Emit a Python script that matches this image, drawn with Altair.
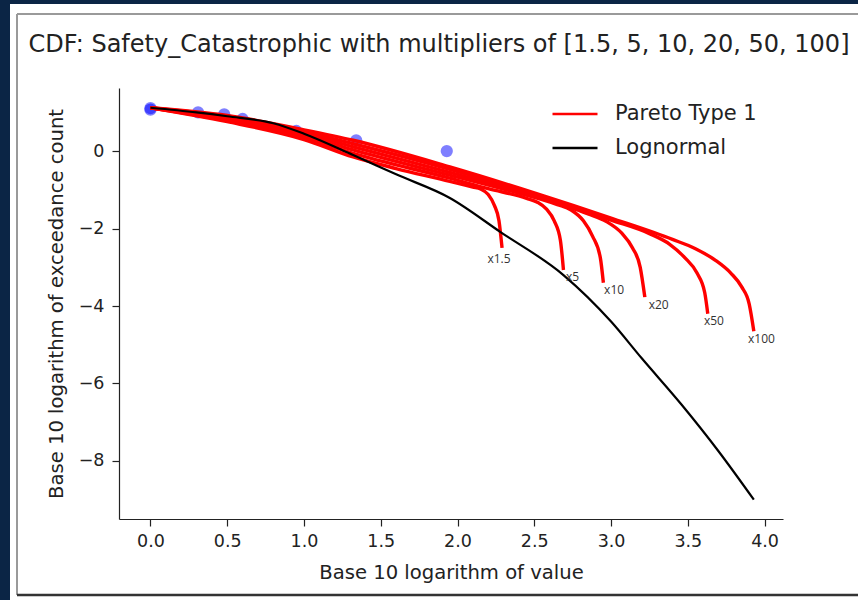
import altair as alt
import pandas as pd

# ---------------- data ----------------
title_text = "CDF: Safety_Catastrophic with multipliers of [1.5, 5, 10, 20, 50, 100]"

obs_x = [0.0, 0.0, 0.31, 0.48, 0.60, 0.95, 1.34, 1.93]
obs_y = [1.11, 1.07, 1.00, 0.95, 0.83, 0.52, 0.28, 0.00]

logn_x = [0.0, 0.3, 0.5, 0.8, 1.0, 1.32, 1.6, 1.95, 2.28, 2.69, 3.0, 3.2, 3.46, 3.7, 3.93]
logn_y = [1.12, 1.00, 0.90, 0.72, 0.45, -0.10, -0.60, -1.21, -2.09, -3.20, -4.40, -5.35, -6.55, -7.75, -9.00]

multipliers = ["x1.5", "x5", "x10", "x20", "x50", "x100"]
pareto_x = {
    "x1.5": [0, 0.5, 1.0, 1.32, 1.6, 1.95, 2.10, 2.15, 2.20, 2.24, 2.27, 2.29],
    "x5":   [0, 0.5, 1.0, 1.32, 1.95, 2.20, 2.45, 2.52, 2.58, 2.63, 2.67, 2.69],
    "x10":  [0, 0.5, 1.0, 1.32, 1.95, 2.30, 2.65, 2.74, 2.82, 2.88, 2.93, 2.95],
    "x20":  [0, 0.5, 1.0, 1.32, 1.95, 2.40, 2.85, 2.97, 3.07, 3.14, 3.19, 3.22],
    "x50":  [0, 0.5, 1.0, 1.32, 1.95, 2.50, 3.00, 3.25, 3.38, 3.48, 3.56, 3.61, 3.63],
    "x100": [0, 0.5, 1.0, 1.32, 1.95, 2.50, 3.00, 3.40, 3.55, 3.68, 3.78, 3.85, 3.90, 3.93],
}
pareto_y = {
    "x1.5": [1.12, 0.76, 0.30, -0.15, -0.45, -0.78, -0.93, -0.98, -1.12, -1.40, -1.80, -2.50],
    "x5":   [1.12, 0.79, 0.35, -0.06, -0.70, -0.97, -1.22, -1.32, -1.50, -1.80, -2.30, -3.07],
    "x10":  [1.12, 0.83, 0.41, 0.03, -0.62, -0.98, -1.38, -1.52, -1.80, -2.20, -2.75, -3.40],
    "x20":  [1.12, 0.86, 0.46, 0.11, -0.55, -1.05, -1.62, -1.82, -2.12, -2.50, -3.00, -3.77],
    "x50":  [1.12, 0.89, 0.50, 0.19, -0.47, -1.12, -1.78, -2.13, -2.40, -2.75, -3.15, -3.65, -4.20],
    "x100": [1.12, 0.92, 0.55, 0.28, -0.41, -1.08, -1.73, -2.28, -2.52, -2.82, -3.15, -3.50, -3.95, -4.65],
}
label_x = [2.27, 2.75, 3.02, 3.31, 3.67, 3.98]
label_y = [-2.79, -3.25, -3.59, -3.97, -4.39, -4.85]

x_ticks = [0.0, 0.5, 1.0, 1.5, 2.0, 2.5, 3.0, 3.5, 4.0]
y_ticks = [0, -2, -4, -6, -8]
series_names = ["Pareto Type 1", "Lognormal"]
series_colors = ["#ff0000", "#000000"]

# ---------------- tables ----------------
rows = []
for m in multipliers:
    for i, (xv, yv) in enumerate(zip(pareto_x[m], pareto_y[m])):
        rows.append({"curve": m, "series": "Pareto Type 1", "i": i, "x": xv, "y": yv})
pareto_df = pd.DataFrame(rows)
logn_df = pd.DataFrame({"curve": "logn", "series": "Lognormal",
                        "i": list(range(len(logn_x))), "x": logn_x, "y": logn_y})
pts_df = pd.DataFrame({"x": obs_x, "y": obs_y})
lab_df = pd.DataFrame({"x": label_x, "y": label_y, "t": multipliers})
one = pd.DataFrame({"t": [title_text]})

FONT = "DejaVu Sans"
xs = alt.Scale(domain=[-0.205, 4.12], nice=False, zero=False)
ys = alt.Scale(domain=[-9.5, 1.63], nice=False, zero=False)
cs = alt.Scale(domain=series_names, range=series_colors)

# decorative page panel (slide frame)
panel = alt.Chart(one).mark_rect(color="white").encode(
    x=alt.value(-109), x2=alt.value(739), y=alt.value(-84), y2=alt.value(512))
frame_l = alt.Chart(one).mark_rule(color="#9a9a9a", strokeWidth=2).encode(
    x=alt.value(-102), y=alt.value(-74), y2=alt.value(507))
frame_t = alt.Chart(one).mark_rule(color="#9a9a9a", strokeWidth=2).encode(
    x=alt.value(-102), x2=alt.value(739), y=alt.value(-74))
frame_b = alt.Chart(one).mark_rule(color="#333333", strokeWidth=2.5).encode(
    x=alt.value(-102), x2=alt.value(739), y=alt.value(507))

title = alt.Chart(one).mark_text(font=FONT, fontSize=24, color="#222222",
                                 align="center", baseline="middle").encode(
    x=alt.value(320), y=alt.value(-43), text="t:N")

points = alt.Chart(pts_df).mark_circle(size=150, color="#0000ff", opacity=0.5).encode(
    x=alt.X("x:Q", scale=xs,
            axis=alt.Axis(title="Base 10 logarithm of value", values=x_ticks, format=".1f",
                          zindex=1)),
    y=alt.Y("y:Q", scale=ys,
            axis=alt.Axis(title="Base 10 logarithm of exceedance count", values=y_ticks,
                          format="d", zindex=1)),
)

legend = alt.Legend(title=None, orient="none", legendX=432, legendY=2,
                    symbolType="stroke", symbolSize=2025,
                    symbolStrokeWidth=2.5, labelFontSize=21,
                    labelFont=FONT, labelColor="#222222",
                    labelOffset=16, rowPadding=-19)

pareto = alt.Chart(pareto_df).mark_line(strokeWidth=3.4, interpolate="monotone").encode(
    x="x:Q", y="y:Q",
    color=alt.Color("series:N", scale=cs, legend=legend),
    detail="curve:N",
    order="i:Q",
)
logn = alt.Chart(logn_df).mark_line(strokeWidth=2.2, interpolate="monotone").encode(
    x="x:Q", y="y:Q",
    color=alt.Color("series:N", scale=cs, legend=legend),
    order="i:Q",
)

labels = alt.Chart(lab_df).mark_text(font="Open Sans", fontSize=12, color="#333333").encode(
    x="x:Q", y="y:Q", text="t:N")

chart = alt.layer(panel, frame_l, frame_t, frame_b, title, points, pareto, logn, labels).properties(
    width=664, height=431,
    autosize=alt.AutoSizeParams(type="none"),
    padding={"left": 119, "top": 88, "right": 75, "bottom": 81},
    background="#0b2545",
).configure_view(stroke=None).configure_axis(
    grid=False, domainColor="#222222", domainWidth=1.2, tickColor="#222222", tickSize=7,
    tickWidth=1.2, labelFont=FONT, labelFontSize=17.5, labelColor="#222222",
    titleFont=FONT, titleFontSize=19.6, titleFontWeight="normal", titleColor="#222222",
).configure_axisX(labelPadding=6, titlePadding=14).configure_axisY(labelPadding=8, titlePadding=12)

chart.save("out.html", embed_options={"renderer": "svg", "actions": False})
